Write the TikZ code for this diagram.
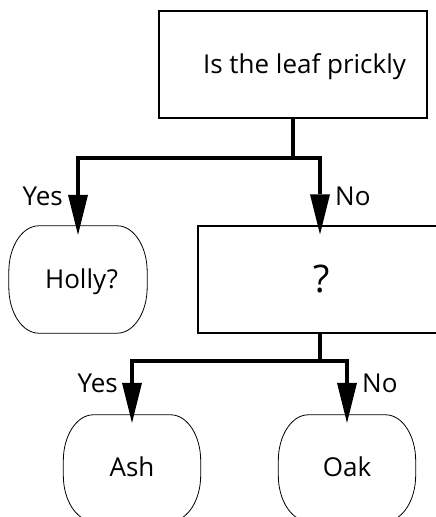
\documentclass[tikz,border=0pt]{standalone}
\usepackage{fontspec}
\setmainfont{Open Sans}
\usetikzlibrary{arrows.meta,calc}
\tikzset{
  qbox/.style={draw, line width=1.1pt, inner sep=0pt, text height=18pt, text depth=0pt},
  leaf/.style={inner sep=0pt, minimum width=138pt, minimum height=107pt, text height=18pt, text depth=0pt},
  conn/.style={line width=4.6pt},
  arr/.style={-{Triangle[length=40pt 0 0,width=20pt 0 0,line width=0pt 0]}},
  lbl/.style={inner sep=0pt},
  leafline/.style={line width=0.8pt},
  bigq/.style={font=\fontsize{38}{42}\selectfont, text height=27pt},
}
\newcommand\leafoutline[1]{%
  \draw[leafline] ($(#1.north west)+(30pt,0pt)$) -- ($(#1.north east)+(-30pt,0pt)$)
    arc[start angle=90,end angle=0,x radius=30pt,y radius=46pt] -- ($(#1.south east)+(0pt,46pt)$)
    arc[start angle=0,end angle=-90,x radius=30pt,y radius=46pt] -- ($(#1.south west)+(30pt,0pt)$)
    arc[start angle=270,end angle=180,x radius=30pt,y radius=46pt] -- ($(#1.north west)+(0pt,-46pt)$)
    arc[start angle=180,end angle=90,x radius=30pt,y radius=46pt] -- cycle;}
\begin{document}
\begin{tikzpicture}[x=1pt,y=1pt, every node/.style={font=\fontsize{26}{30}\selectfont}]
\useasboundingbox (0,0) rectangle (436,517);
\clip (0,0) rectangle (436,517);
% question boxes
\node[qbox, minimum width=268pt, minimum height=107pt] (q1) at (293,452.5) {\hspace*{23pt}Is the leaf prickly};
\node[qbox, bigq, minimum width=244pt, minimum height=107pt] (q2) at (320,237.5) {\hspace*{3pt}?};
% leaves
\node[leaf] (holly) at (78,237.5) {\hspace*{7pt}Holly?};
\leafoutline{holly}
\node[leaf, minimum width=137pt, minimum height=106pt] (ash) at (132,49) {Ash};
\leafoutline{ash}
\node[leaf, minimum width=137pt, minimum height=106pt] (oak) at (347,49) {Oak};
\leafoutline{oak}
% connectors
\coordinate (j1) at (q1.south |- 0,359);
\draw[conn] (q1.south) -- (j1);
\draw[conn,arr] (j1) -| ([yshift=-9pt]holly.north);
\draw[conn,arr] (j1) -| ([yshift=-9pt]q2.north);
\coordinate (j2) at (q2.south |- 0,156);
\draw[conn] (q2.south) -- (j2);
\draw[conn,arr] (j2) -| ([yshift=-8pt]ash.north);
\draw[conn,arr] (j2) -| ([yshift=-8pt]oak.north);
% labels
\node[lbl, anchor=base east] (y1) at (63,311) {Yes};
\node[lbl, anchor=base west] (n1) at (335,311) {No};
\node[lbl, anchor=base east] (y2) at (118,124) {Yes};
\node[lbl, anchor=base west] (n2) at (362,124) {No};
\end{tikzpicture}
\end{document}
